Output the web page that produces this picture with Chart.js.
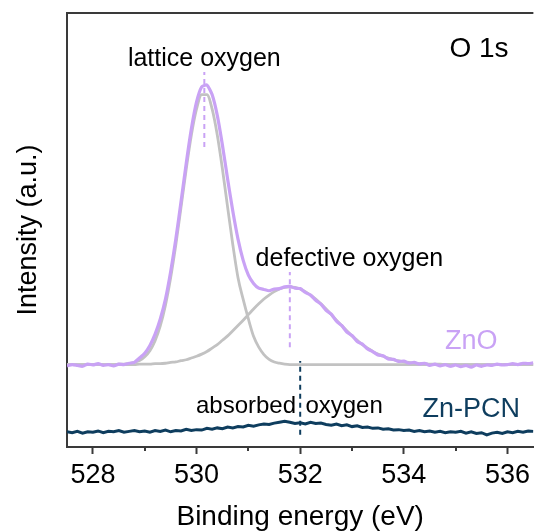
<!DOCTYPE html>
<html>
<head>
<meta charset="utf-8">
<script src="https://cdn.jsdelivr.net/npm/chart.js@4.4.1/dist/chart.umd.min.js"></script>
<style>
  body { margin: 0; background: #fff; }
  #wrap { width: 535px; height: 531px; position: relative; }
</style>
</head>
<body>
<div id="wrap"><canvas id="myChart"></canvas></div>
<script>
// binding energy grid (eV)
const energy = [
  527.5, 527.6, 527.7, 527.8, 527.9, 528.0, 528.1, 528.2, 528.3, 528.4,
  528.5, 528.6, 528.7, 528.8, 528.9, 529.0, 529.1, 529.2, 529.3, 529.4,
  529.5, 529.6, 529.7, 529.8, 529.9, 530.0, 530.1, 530.2, 530.3, 530.4,
  530.5, 530.6, 530.7, 530.8, 530.9, 531.0, 531.1, 531.2, 531.3, 531.4,
  531.5, 531.6, 531.7, 531.8, 531.9, 532.0, 532.1, 532.2, 532.3, 532.4,
  532.5, 532.6, 532.7, 532.8, 532.9, 533.0, 533.1, 533.2, 533.3, 533.4,
  533.5, 533.6, 533.7, 533.8, 533.9, 534.0, 534.1, 534.2, 534.3, 534.4,
  534.5, 534.6, 534.7, 534.8, 534.9, 535.0, 535.1, 535.2, 535.3, 535.4,
  535.5, 535.6, 535.7, 535.8, 535.9, 536.0, 536.1, 536.2, 536.3, 536.4,
  536.5
];

// ZnO spectrum (a.u.)
const zno = [
  18.7, 19.0, 18.8, 18.6, 19.1, 18.9, 19.2, 18.8, 19.0, 18.7,
  19.1, 19.0, 19.3, 19.5, 20.5, 21.6, 23.4, 26.0, 29.5, 34.1,
  40.4, 47.9, 56.5, 65.3, 73.3, 79.5, 83.0, 83.4, 81.2, 76.4,
  69.5, 61.7, 54.3, 47.9, 43.0, 39.6, 37.7, 36.6, 36.3, 36.0,
  36.4, 36.5, 36.9, 37.0, 36.6, 36.5, 35.6, 35.0, 33.8, 32.9,
  31.5, 30.6, 29.0, 28.0, 26.5, 25.7, 24.3, 23.7, 22.6, 22.0,
  21.2, 21.0, 20.3, 20.2, 19.7, 19.8, 19.3, 19.5, 19.1, 19.3,
  18.8, 19.1, 18.7, 19.0, 18.6, 18.9, 18.5, 18.8, 18.4, 18.9,
  18.6, 18.9, 18.8, 19.1, 18.9, 19.0, 19.2, 19.0, 19.3, 19.2,
  19.4
];

// fitted components of ZnO
const fitLattice = [
  19.0, 19.0, 19.0, 19.0, 19.0, 19.0, 19.0, 19.0, 19.0, 19.0,
  19.1, 19.1, 19.2, 19.5, 19.9, 20.8, 22.2, 24.5, 27.9, 32.7,
  39.0, 46.6, 55.2, 64.0, 71.9, 77.9, 81.2, 81.2, 77.9, 71.9,
  64.0, 55.2, 46.6, 39.0, 34.0, 29.5, 25.5, 23.0, 21.3, 20.2,
  19.6, 19.3, 19.1, 19.0, 19.0, 19.0, 19.0, 19.0, 19.0, 19.0,
  19.0, 19.0, 19.0, 19.0, 19.0, 19.0, 19.0, 19.0, 19.0, 19.0,
  19.0, 19.0, 19.0, 19.0, 19.0, 19.0, 19.0, 19.0, 19.0, 19.0,
  19.0, 19.0, 19.0, 19.0, 19.0, 19.0, 19.0, 19.0, 19.0, 19.0,
  19.0, 19.0, 19.0, 19.0, 19.0, 19.0, 19.0, 19.0, 19.0, 19.0,
  19.0
];
const fitDefect = [
  19.0, 19.0, 19.0, 19.0, 19.0, 19.0, 19.0, 19.0, 19.0, 19.0,
  19.0, 19.0, 19.0, 19.0, 19.1, 19.1, 19.1, 19.2, 19.2, 19.3,
  19.5, 19.6, 19.9, 20.1, 20.5, 20.9, 21.4, 22.0, 22.8, 23.6,
  24.6, 25.6, 26.8, 28.0, 29.2, 30.5, 31.8, 33.0, 34.1, 35.0,
  35.8, 36.4, 36.8, 36.9, 36.8, 36.4, 35.8, 35.0, 34.1, 33.0,
  31.8, 30.5, 29.2, 28.0, 26.8, 25.6, 24.6, 23.6, 22.8, 22.0,
  21.4, 20.9, 20.5, 20.1, 19.9, 19.6, 19.5, 19.3, 19.2, 19.2,
  19.1, 19.1, 19.1, 19.0, 19.0, 19.0, 19.0, 19.0, 19.0, 19.0,
  19.0, 19.0, 19.0, 19.0, 19.0, 19.0, 19.0, 19.0, 19.0, 19.0,
  19.0
];

// Zn-PCN spectrum (a.u.)
const znpcn = [
  3.5, 3.3, 3.6, 3.2, 3.5, 3.4, 3.7, 3.3, 3.6, 3.5,
  3.8, 3.4, 3.6, 3.8, 3.5, 3.7, 3.4, 3.8, 3.6, 3.9,
  3.5, 3.8, 3.7, 4.1, 3.8, 4.0, 3.9, 4.3, 4.1, 4.4,
  4.2, 4.6, 4.4, 4.7, 4.6, 5.0, 4.8, 5.1, 5.3, 5.2,
  5.5, 5.7, 5.9, 5.7, 5.4, 5.6, 5.3, 5.7, 5.4, 5.5,
  5.2, 5.0, 5.3, 4.9, 5.1, 4.7, 4.9, 4.5, 4.6, 4.3,
  4.4, 4.1, 4.2, 3.9, 4.0, 3.8, 3.9, 3.6, 3.8, 3.5,
  3.7, 3.4, 3.6, 3.3, 3.5, 3.4, 3.6, 3.2, 3.5, 3.1,
  3.3, 2.8, 3.2, 3.4, 3.1, 3.5, 3.3, 3.6, 3.4, 3.7,
  3.6
];

// peak markers: [energy, from, to]
const latticeMark = [530.15, 69.1, 86.4];
const defectMark = [531.8, 23.0, 40.3];
const absorbedMark = [532.0, 2.8, 19.8];

const xTicks = [528, 530, 532, 534, 536];
const xMinor = [529, 531, 533, 535];

const purple = '#c9a2f5';
const navy = '#0e3d5e';
const grey = '#c2c2c2';
const axisColor = '#3a3a3a';
const fontFamily = '"Liberation Sans", Arial, sans-serif';

const pts = arr => energy.map((e, i) => ({ x: e, y: arr[i] }));
const mark = m => [{ x: m[0], y: m[1] }, { x: m[0], y: m[2] }];

// labels, top frame and minor ticks
const extras = {
    id: 'extras',
    afterDraw(chart) {
        const { ctx, chartArea } = chart;
        const xs = chart.scales.x, ys = chart.scales.y;
        ctx.save();
        ctx.strokeStyle = axisColor;
        ctx.lineWidth = 2;
        ctx.beginPath();
        ctx.moveTo(chartArea.left - 1, chartArea.top);
        ctx.lineTo(chartArea.right, chartArea.top);
        ctx.stroke();
        xMinor.forEach(v => {
            const px = Math.round(xs.getPixelForValue(v));
            ctx.beginPath();
            ctx.moveTo(px, chartArea.bottom);
            ctx.lineTo(px, chartArea.bottom + 4);
            ctx.stroke();
        });

        const text = (s, x, y, size, color, align) => {
            ctx.font = size + 'px ' + fontFamily;
            ctx.fillStyle = color;
            ctx.textAlign = align || 'center';
            ctx.textBaseline = 'middle';
            ctx.fillText(s, xs.getPixelForValue(x), ys.getPixelForValue(y));
        };
        text('O 1s', 535.45, 91.6, 28, '#000');
        text('lattice oxygen', 530.15, 89.4, 25, '#000');
        text('defective oxygen', 532.95, 43.3, 25, '#000');
        text('ZnO', 535.3, 24.2, 27, purple);
        text('absorbed', 531.92, 9.4, 24, '#000', 'right');
        text('oxygen', 532.1, 9.4, 24, '#000', 'left');
        text('Zn-PCN', 535.3, 8.6, 27, navy);
        ctx.restore();
    }
};

const myChart = new Chart(document.getElementById('myChart'), {
    type: 'line',
    data: {
        datasets: [{
            label: 'lattice marker',
            data: mark(latticeMark),
            borderColor: purple,
            borderWidth: 2,
            borderDash: [5, 4],
            order: 0
        }, {
            label: 'defect marker',
            data: mark(defectMark),
            borderColor: purple,
            borderWidth: 2,
            borderDash: [5, 4],
            order: 0
        }, {
            label: 'absorbed marker',
            data: mark(absorbedMark),
            borderColor: navy,
            borderWidth: 2,
            borderDash: [5, 4],
            order: 0
        }, {
            label: 'Zn-PCN',
            data: pts(znpcn),
            borderColor: navy,
            borderWidth: 3,
            tension: 0,
            order: 1
        }, {
            label: 'ZnO',
            data: pts(zno),
            borderColor: purple,
            borderWidth: 3.2,
            tension: 0.2,
            order: 1
        }, {
            label: 'lattice fit',
            data: pts(fitLattice),
            borderColor: grey,
            borderWidth: 2.8,
            cubicInterpolationMode: 'monotone',
            order: 2
        }, {
            label: 'defect fit',
            data: pts(fitDefect),
            borderColor: grey,
            borderWidth: 2.8,
            cubicInterpolationMode: 'monotone',
            order: 2
        }]
    },
    options: {
        responsive: true,
        maintainAspectRatio: false,
        animation: false,
        layout: { padding: { top: 13, right: 0, left: 0, bottom: 0 } },
        elements: { point: { radius: 0 } },
        plugins: {
            legend: { display: false },
            tooltip: { enabled: false }
        },
        scales: {
            x: {
                type: 'linear',
                min: 527.5,
                max: 536.5,
                afterBuildTicks: s => { s.ticks = xTicks.map(v => ({ value: v })); },
                afterFit: s => { s.height = 84; },
                ticks: {
                    color: '#000',
                    font: { family: fontFamily, size: 27 },
                    padding: 5,
                    maxRotation: 0
                },
                grid: {
                    drawOnChartArea: false,
                    drawTicks: true,
                    tickLength: 7,
                    tickWidth: 2,
                    tickColor: axisColor
                },
                border: { display: true, color: axisColor, width: 2 },
                title: {
                    display: true,
                    text: 'Binding energy (eV)',
                    color: '#000',
                    font: { family: fontFamily, size: 28, lineHeight: 1 },
                    padding: 0
                }
            },
            y: {
                min: 0,
                max: 100,
                afterFit: s => { s.width = 67; },
                ticks: { display: false },
                grid: { display: false },
                border: { display: true, color: axisColor, width: 2 },
                title: {
                    display: true,
                    text: 'Intensity (a.u.)',
                    color: '#000',
                    font: { family: fontFamily, size: 27, lineHeight: 1.2 },
                    padding: { top: 12, bottom: 0 }
                }
            }
        }
    },
    plugins: [extras]
});
</script>
</body>
</html>
